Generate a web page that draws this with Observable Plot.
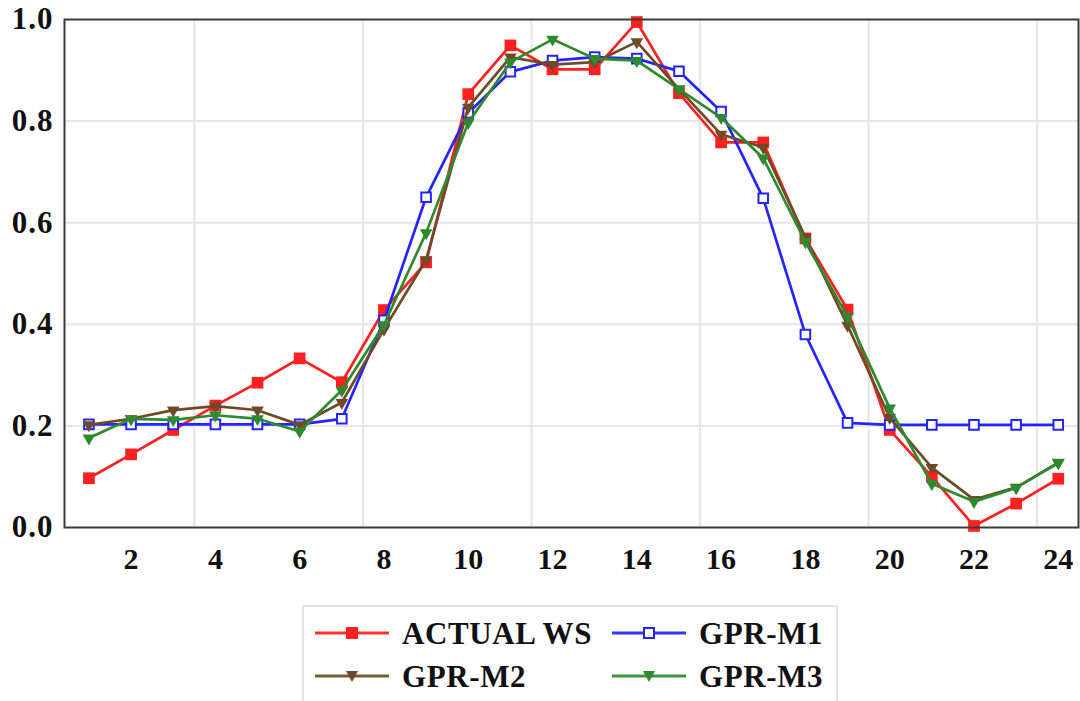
<!DOCTYPE html>
<html>
<head>
<meta charset="utf-8">
<script src="https://cdn.jsdelivr.net/npm/d3@7"></script>
<script src="https://cdn.jsdelivr.net/npm/@observablehq/plot@0.6"></script>
<style>
  html, body { margin: 0; padding: 0; background: #fff; overflow: hidden; }
  #wrap { position: relative; width: 1080px; height: 701px; }
  #legend {
    position: absolute; left: 302px; top: 605px; width: 536px; height: 110px;
    border: 2px solid #e2e2e2; box-sizing: border-box; background: #fff;
  }
  #legend svg { display: block; }
  .yax text { letter-spacing: 1px; }
</style>
</head>
<body>
<div id="wrap"></div>
<script>
const hours = d3.range(1, 25);
const seriesNames = ["ACTUAL WS", "GPR-M1", "GPR-M2", "GPR-M3"];
const actualWS = [0.097,0.144,0.192,0.240,0.285,0.333,0.286,0.428,0.522,0.853,0.949,0.902,0.902,0.995,0.855,0.758,0.758,0.569,0.429,0.192,0.100,0.003,0.047,0.096];
const gprM1 = [0.203,0.203,0.203,0.203,0.203,0.203,0.214,0.408,0.650,0.816,0.897,0.919,0.926,0.923,0.898,0.819,0.648,0.380,0.206,0.202,0.202,0.202,0.202,0.202];
const gprM2 = [0.202,0.214,0.231,0.239,0.231,0.202,0.246,0.390,0.527,0.827,0.926,0.911,0.916,0.956,0.863,0.774,0.748,0.571,0.398,0.216,0.118,0.055,0.079,0.127];
const gprM3 = [0.176,0.214,0.212,0.221,0.214,0.189,0.270,0.399,0.580,0.797,0.916,0.961,0.923,0.919,0.863,0.807,0.727,0.562,0.415,0.235,0.086,0.051,0.078,0.128];
const xTicks = [2,4,6,8,10,12,14,16,18,20,22,24];
const yTicks = [0,0.2,0.4,0.6,0.8,1.0];
const xGrid = [3.5,7.5,11.5,15.5,19.5,23.5];
const yGrid = [0.2,0.4,0.6,0.8];

const colors = {"ACTUAL WS": "#ff2020", "GPR-M1": "#2424ff", "GPR-M2": "#6e4a28", "GPR-M3": "#2e8a2e"};
const values = {"ACTUAL WS": actualWS, "GPR-M1": gprM1, "GPR-M2": gprM2, "GPR-M3": gprM3};
const mk = name => hours.map((h, i) => ({hour: h, value: values[name][i], series: name}));

const font = "'Liberation Serif', 'Times New Roman', serif";

function seriesMarks(name) {
  const d = mk(name);
  const c = colors[name];
  const marks = [Plot.line(d, {x: "hour", y: "value", stroke: c, strokeWidth: 2.7})];
  if (name === "ACTUAL WS") marks.push(Plot.dot(d, {x: "hour", y: "value", symbol: "square", r: 6.6, fill: c, stroke: "none"}));
  else if (name === "GPR-M1") marks.push(Plot.dot(d, {x: "hour", y: "value", symbol: "square", r: 5.4, fill: "#fff", stroke: c, strokeWidth: 2}));
  else marks.push(Plot.dot(d, {x: "hour", y: "value", symbol: "triangle", rotate: 180, r: 4.7, fill: c, stroke: "none"}));
  return marks;
}

const chart = Plot.plot({
  width: 1080,
  height: 590,
  marginLeft: 64,
  marginRight: 2,
  marginTop: 19,
  marginBottom: 63,
  style: {fontFamily: font, fontSize: "30px", fontWeight: "bold", color: "#111", background: "#fff"},
  x: {domain: [0.42, 24.48]},
  y: {domain: [0, 1]},
  marks: [
    Plot.ruleX(xGrid, {stroke: "#e6e6e6", strokeWidth: 2}),
    Plot.ruleY(yGrid, {stroke: "#e6e6e6", strokeWidth: 2}),
    Plot.axisX({ticks: xTicks, tickSize: 0, tickPadding: 20, label: null, fontSize: 30, fontWeight: "bold", fontFamily: font}),
    Plot.axisY({ticks: yTicks, tickSize: 0, tickPadding: 11, label: null, tickFormat: d3.format(".1f"), fontSize: 31, fontWeight: "bold", fontFamily: font, className: "yax"}),
    ...seriesNames.flatMap(seriesMarks),
    Plot.frame({stroke: "#3a3a3a", strokeWidth: 2})
  ]
});
const wrap = document.getElementById("wrap");
wrap.appendChild(chart);

// Legend
const legend = document.createElement("div");
legend.id = "legend";
wrap.appendChild(legend);
const lw = 536, lh = 110;
const svg = d3.select(legend).append("svg").attr("width", lw).attr("height", lh);
const cols = [0, 297];
const rows = [26, 69];
seriesNames.forEach((name, i) => {
  const gx = 11 + cols[i % 2];
  const gy = rows[Math.floor(i / 2)];
  const c = colors[name];
  const g = svg.append("g").attr("transform", `translate(${gx},${gy})`);
  g.append("line").attr("x1", 0).attr("x2", 74).attr("y1", 0).attr("y2", 0).attr("stroke", c).attr("stroke-width", 3.2).attr("opacity", 0.92);
  if (name === "ACTUAL WS") g.append("rect").attr("x", 31).attr("y", -6).attr("width", 12).attr("height", 12).attr("fill", c);
  else if (name === "GPR-M1") g.append("rect").attr("x", 32).attr("y", -5).attr("width", 10).attr("height", 10).attr("fill", "#fff").attr("stroke", c).attr("stroke-width", 2);
  else g.append("path").attr("d", "M31,-5 L43,-5 L37,6 Z").attr("fill", c);
  g.append("text").attr("x", 87).attr("y", 0).attr("dy", "0.35em")
    .attr("font-family", font).attr("font-weight", "bold").attr("font-size", 31)
    .attr("letter-spacing", "0.6px").attr("fill", "#111")
    .text(name);
});
</script>
</body>
</html>
